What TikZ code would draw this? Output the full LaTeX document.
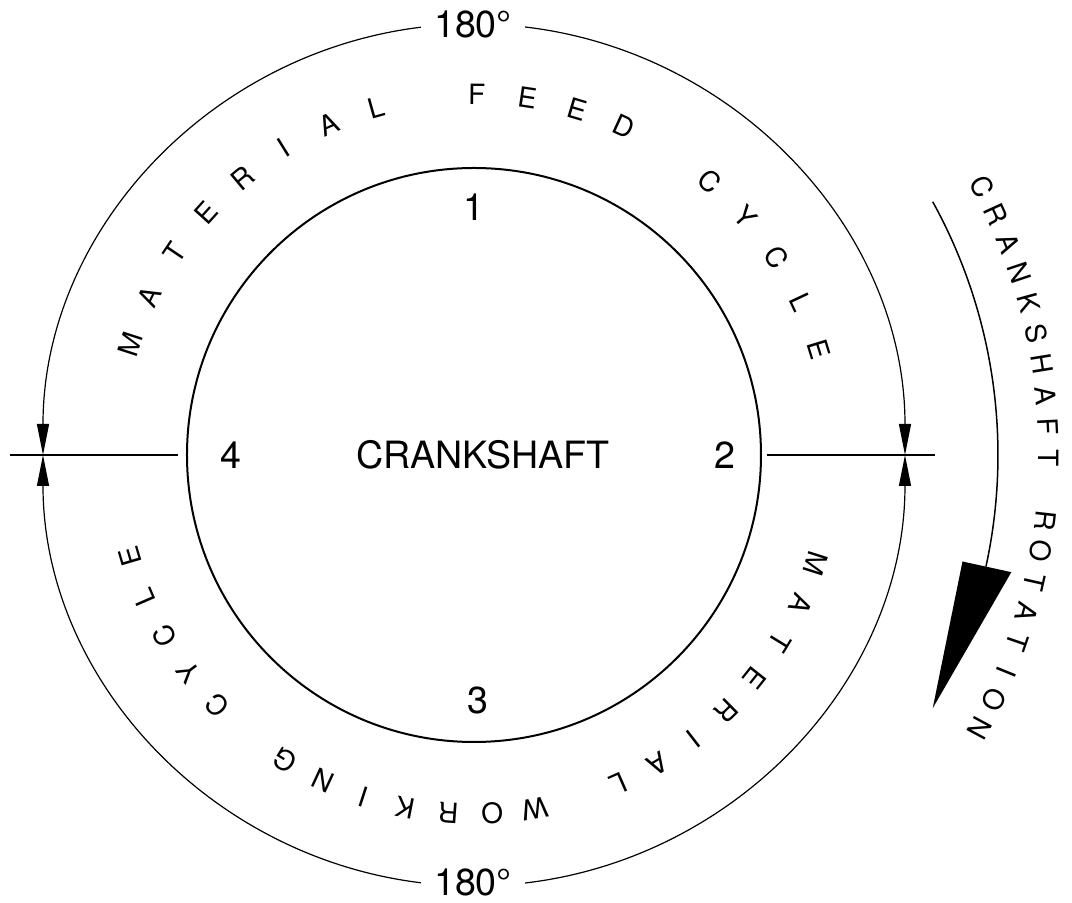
\documentclass[tikz,border=0pt]{standalone}
\usepackage{fontspec}
\setmainfont{TeX Gyre Heros}
\usetikzlibrary{arrows.meta, calc}
\tikzset{
  every picture/.style={line width=0.6pt},
  arcletter/.style={font=\fontsize{14}{16}\selectfont, inner sep=0pt},
  bignum/.style={font=\fontsize{18.8}{22}\selectfont, inner sep=1pt},
  degree/.style={font=\fontsize{18.8}{22}\selectfont, fill=white, inner xsep=6.8pt, inner ysep=0.5pt},
  dimline/.style={{Triangle[length=15.5pt, width=6pt]}-{Triangle[length=15.5pt, width=6pt]}, line width=0.6pt},
  leader/.style={line width=0.8pt},
}

\begin{document}
\begin{tikzpicture}[x=0.5pt, y=0.5pt]
  \useasboundingbox (-474,-448) rectangle (598,455);
  % ---- crankshaft circle
  \draw[line width=1pt] (0,0) circle[radius=287];
  \node[bignum] (crank) at (9,0) {CRANKSHAFT};
  \node[bignum] (n1) at (0,248) {1};
  \node[bignum] (n2) at (251,0) {2};
  \node[bignum] (n3) at (4,-245) {3};
  \node[bignum] (n4) at (-243,0) {4};
  % ---- outer circle, two halves of 180 degrees
  \draw[dimline] (180:431) arc[start angle=180, end angle=0, radius=431];
  \draw[dimline] (180:431) arc[start angle=180, end angle=360, radius=431];
  \node[degree] (deg top) at (-1,431) {180°};
  \node[degree] (deg bot) at (-1,-427) {180°};
  % ---- dead centre lines
  \coordinate (lfar) at (-464,0);
  \coordinate (lnear) at (-296,0);
  \coordinate (rnear) at (293,0);
  \coordinate (rfar) at (461,0);
  \draw[leader] (lfar) -- (lnear);
  \draw[leader] (rnear) -- (rfar);
  % ---- lettering round the ring
  \foreach \ch [count=\i from 0] in {M,A,T,E,R,I,A,L,{},F,E,E,D,{},C,Y,C,L,E} {
    \pgfmathsetmacro{\a}{162.1-8.06*\i}
    \node[arcletter, rotate=\a-90] (feed\i) at (\a:361) {\ch};
  }
  \foreach \ch [count=\i from 0] in {M,A,T,E,R,I,A,L,{},W,O,R,K,I,N,G,{},C,Y,C,L,E} {
    \pgfmathsetmacro{\a}{-17.6-6.95*\i}
    \node[arcletter, rotate=\a-90] (work\i) at (\a:359) {\ch};
  }
  % ---- direction of rotation
  \coordinate (rotstart) at (28.9:524);
  \coordinate (rotend) at (-12.3:525);
  \draw[line width=0.75pt] (rotstart) arc[start angle=28.9, end angle=-12.3, radius=524];
  \fill (-12.3:500) -- (-12.3:550) -- (-28.9:524) -- cycle;
  \foreach \ch [count=\i from 0] in {C,R,A,N,K,S,H,A,F,T,{},R,O,T,A,T,I,O,N} {
    \pgfmathsetmacro{\a}{27.8-3.12*\i}
    \node[arcletter, rotate=\a-90] (rot\i) at (\a:575) {\ch};
  }
\end{tikzpicture}
\end{document}
